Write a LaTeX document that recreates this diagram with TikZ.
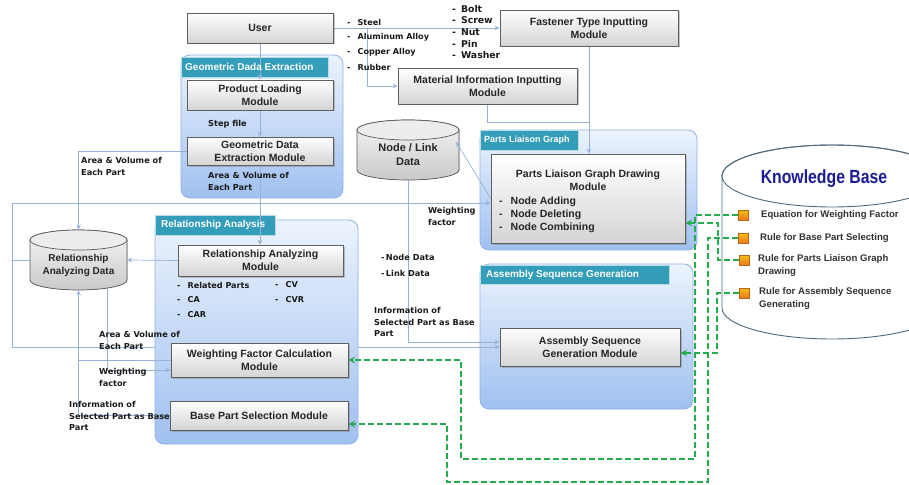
\documentclass[tikz,border=0pt]{standalone}
\usepackage{fontspec}
\setmainfont{Liberation Sans}
\newfontfamily\dvs{DejaVu Sans}
\usetikzlibrary{arrows.meta,shadows,calc}
\definecolor{grpTop}{RGB}{236,243,253}
\definecolor{grpBot}{RGB}{160,192,240}
\definecolor{grpLine}{RGB}{145,178,228}
\definecolor{tabFill}{RGB}{52,158,186}
\definecolor{modBot}{RGB}{212,212,212}
\definecolor{modLine}{RGB}{95,95,95}
\definecolor{connCol}{RGB}{150,178,214}
\definecolor{kbGreen}{RGB}{38,172,78}
\definecolor{kbLine}{RGB}{75,105,125}
\definecolor{kbTitle}{RGB}{28,28,150}
\definecolor{kbOrange}{RGB}{238,140,35}
\definecolor{cylLine}{RGB}{90,90,90}
\pgfdeclarelayer{grp}
\pgfdeclarelayer{conn}
\pgfsetlayers{grp,conn,main}
\begin{document}
\begin{tikzpicture}[x=1pt,y=-1pt,
  module/.style={draw=modLine, line width=0.6pt, top color=white, bottom color=modBot,
    inner sep=0pt, drop shadow={shadow xshift=1.5pt, shadow yshift=-1.5pt, opacity=0.45}},
  modtxt/.style={inner sep=0pt, align=center, font=\fontsize{10.5}{13}\selectfont\bfseries, text=black!85},
  group/.style={draw=grpLine, line width=0.8pt, rounded corners=9pt, top color=grpTop, bottom color=grpBot, inner sep=0pt},
  tabbox/.style={fill=tabFill, draw=white!65!tabFill, line width=0.8pt, inner sep=0pt},
  tabtxt/.style={inner sep=0pt, text=white, font=\fontsize{10}{12}\selectfont\bfseries},
  conn/.style={draw=connCol, line width=0.7pt},
  arr/.style={conn, -{Stealth[length=5pt,width=4.5pt]}},
  lbl/.style={inner sep=0pt, align=left, text=black!90, font=\dvs\fontsize{8.2}{12}\selectfont\bfseries},
  lst/.style={inner sep=0pt, align=left, text=black!90, font=\dvs\fontsize{8.1}{10}\selectfont\bfseries},
  fst/.style={inner sep=0pt, align=left, text=black!90, font=\dvs\fontsize{9.3}{11}\selectfont\bfseries},
  cyltxt/.style={inner sep=0pt, align=center, text=black!85, font=\fontsize{10}{13}\selectfont\bfseries},
  kbtxt/.style={inner sep=0pt, align=left, text=black!80, font=\fontsize{9.6}{12.5}\selectfont\bfseries},
  kbsq/.style={draw=kbOrange!75!black, line width=0.4pt, top color=kbOrange!55!yellow, bottom color=kbOrange!85!red, minimum size=10pt, inner sep=0pt},
  kbdash/.style={draw=kbGreen, line width=1.6pt, dash pattern=on 5.5pt off 3.5pt},
  kbarr/.style={kbdash, -{Stealth[length=7pt,width=7pt,inset=2.5pt]}},
  cylbody/.style={draw=cylLine, line width=0.7pt, top color=gray!8, bottom color=gray!42},
  cylend/.style={draw=cylLine, line width=0.7pt, fill=gray!14}
]
\useasboundingbox (0,0) rectangle (909,484);
\clip (0,0) rectangle (909,484);

% ---------- groups, tabs, cylinders (bottom layer)
\begin{pgfonlayer}{grp}
\node[group, minimum width=162pt, minimum height=143pt] (gde) at (262,126.5) {};
\node[group, minimum width=217pt, minimum height=120pt] (plg) at (588.5,190) {};
\node[group, minimum width=213pt, minimum height=145pt] (asg) at (586.5,336.5) {};
\node[group, minimum width=203pt, minimum height=224pt] (ra) at (256.5,332) {};
\node[tabbox, minimum width=147pt, minimum height=20pt] (gdetab) at (254.5,67) {};
\node[tabbox, minimum width=98pt, minimum height=20pt] (plgtab) at (529,140) {};
\node[tabbox, minimum width=189pt, minimum height=19pt] (asgtab) at (574.5,274.5) {};
\node[tabbox, minimum width=120pt, minimum height=20pt] (ratab) at (215,225) {};
% Relationship Analyzing Data cylinder
\filldraw[cylbody] (30,240) -- (30,280) arc[start angle=180,end angle=360,x radius=48.5pt,y radius=10pt] -- (127,240) arc[start angle=0,end angle=180,x radius=48.5pt,y radius=10pt] -- cycle;
\filldraw[cylend] (78.5,240) ellipse[x radius=48.5pt,y radius=10pt];
% Node / Link Data cylinder
\filldraw[cylbody] (357,130) -- (357,170) arc[start angle=180,end angle=360,x radius=51pt,y radius=10pt] -- (459,130) arc[start angle=0,end angle=180,x radius=51pt,y radius=10pt] -- cycle;
\filldraw[cylend] (408,130) ellipse[x radius=51pt,y radius=10pt];
% Knowledge Base cylinder
\filldraw[draw=kbLine, line width=0.9pt, fill=white] (722,176) -- (722,308) arc[start angle=180,end angle=360,x radius=110pt,y radius=31pt] -- (942,176) arc[start angle=0,end angle=180,x radius=110pt,y radius=31pt] -- cycle;
\draw[draw=kbLine, line width=0.9pt] (832,176) ellipse[x radius=110pt,y radius=31pt];
\end{pgfonlayer}

% invisible nodes covering the cylinders
\node[inner sep=0pt, minimum width=97pt, minimum height=60pt] (rad) at (78.5,260) {};
\node[inner sep=0pt, minimum width=102pt, minimum height=60pt] (nld) at (408,150) {};
\node[inner sep=0pt, minimum width=220pt, minimum height=194pt] (kb) at (832,242) {};

% ---------- modules
\node[module, minimum width=146pt, minimum height=30pt] (user) at (260,28) {};
\node[module, minimum width=146pt, minimum height=30pt] (plm) at (260,95) {};
\node[module, minimum width=146pt, minimum height=28pt] (gdem) at (260,151) {};
\node[module, minimum width=178pt, minimum height=36pt] (fast) at (589,28) {};
\node[module, minimum width=179pt, minimum height=36pt] (mat) at (487.5,86) {};
\node[module, minimum width=194pt, minimum height=89pt] (plgdm) at (588,198.5) {};
\node[module, minimum width=180pt, minimum height=38pt] (asgm) at (590,347) {};
\node[module, minimum width=165pt, minimum height=31pt] (ram) at (260.5,260.5) {};
\node[module, minimum width=177pt, minimum height=34pt] (wfcm) at (259.5,360) {};
\node[module, minimum width=178pt, minimum height=29pt] (bpsm) at (259,415.5) {};

\node[modtxt] (usert) at (user) {User};
\node[modtxt] (plmt) at (plm) {Product Loading\\Module};
\node[modtxt] (gdemt) at (gdem) {Geometric Data\\Extraction Module};
\node[modtxt] (fastt) at (fast) {Fastener Type Inputting\\Module};
\node[modtxt] (matt) at (mat) {Material Information Inputting\\Module};
\node[modtxt] (plgdmt) at (588,180) {Parts Liaison Graph Drawing\\Module};
\node[modtxt, anchor=west, align=left] (plgdml) at (499,214.5) {-\hspace{8pt}Node Adding\\-\hspace{8pt}Node Deleting\\-\hspace{8pt}Node Combining};
\node[modtxt] (asgmt) at (asgm) {Assembly Sequence\\Generation Module};
\node[modtxt] (ramt) at (ram) {Relationship Analyzing\\Module};
\node[modtxt] (wfcmt) at (wfcm) {Weighting Factor Calculation\\Module};
\node[modtxt] (bpsmt) at (bpsm) {Base Part Selection Module};

% tab texts
\node[tabtxt, anchor=west] (gdetabt) at (185,67) {Geometric Dada Extraction};
\node[tabtxt, anchor=west, font=\fontsize{9}{11}\selectfont\bfseries] (plgtabt) at (484,140) {Parts Liaison Graph};
\node[tabtxt, anchor=west] (asgtabt) at (486,274.5) {Assembly Sequence Generation};
\node[tabtxt, anchor=west] (ratabt) at (161,225) {Relationship Analysis};

% cylinder texts
\node[cyltxt] (radt) at (78.5,265.5) {Relationship\\Analyzing Data};
\node[cyltxt, font=\fontsize{11}{14.5}\selectfont\bfseries] (nldt) at (408,154.5) {Node / Link\\Data};

% ---------- light connectors
\coordinate (brM) at (367,28);
\coordinate (jM) at (589,122);
\coordinate (lpA) at (12,203);
\coordinate (lpB) at (12,260);
\coordinate (lpC) at (12,347);
\coordinate (radB) at (107,288);
\begin{pgfonlayer}{conn}
\draw[arr] (user.south) -- (plm.north);
\draw[arr] (plm.south) -- (gdem.north);
\draw[arr] (gdem.south) -- (gdem.south |- ram.north);
\draw[arr] (gdem.west) -| (rad.north);
\draw[arr] (user.east) -- (fast.west);
\draw[arr] (brM) |- (mat.west);
\draw[arr] (fast.south) -- (fast.south |- plgdm.north);
\draw[conn] (mat.south) |- (jM);
\draw[arr] (plgdm.west) -- ($(nld.east)+(-3,-8)$);
\draw[arr] (lpA) -- (lpA -| plgdm.west);
\draw[conn] (rad.west) -- (lpB);
\draw[conn] (lpA) -- (lpC);
\draw[conn] (lpC) -- (lpC -| ra.west);
\draw[arr] (lpC -| ra.east) -- (lpC -| asgm.west);
\draw[arr] (ram.west) -- (rad.east);
\draw[arr] (nld.south) |- ($(asgm.west)+(0,-5)$);
\draw[arr] (bpsm.west) -| (rad.south);
\draw[conn] (rad.south |- wfcm.west) -- (wfcm.west);
\draw[arr] (radB) |- ($(wfcm.west)+(0,10)$);
\end{pgfonlayer}

% ---------- knowledge base contents
\node[inner sep=0pt, text=kbTitle, font=\fontsize{17}{20}\selectfont\bfseries] (kbt) at (824,179) {\scalebox{0.93}[1.12]{Knowledge Base}};
\node[kbsq] (kbq1) at (743,215) {};
\node[kbsq] (kbq2) at (743,238) {};
\node[kbsq] (kbq3) at (744,260) {};
\node[kbsq] (kbq4) at (744,293) {};
\node[kbtxt, anchor=west] (kb1) at (761,215) {Equation for Weighting Factor};
\node[kbtxt, anchor=west] (kb2) at (760,238) {Rule for Base Part Selecting};
\node[kbtxt, anchor=north west] (kb3) at (758,254.5) {Rule for Parts Liaison Graph\\Drawing};
\node[kbtxt, anchor=north west] (kb4) at (759,287.5) {Rule for Assembly Sequence\\Generating};

% ---------- knowledge base dashed links
\begin{pgfonlayer}{conn}
\draw[kbarr] (kbq1.west) -- (695,215) -- (695,459) -- (461,459) -- (461,360) -- (wfcm.east);
\draw[kbarr] (kbq2.west) -- (708,238) -- (708,482) -- (447,482) -- (447,424) -- ($(bpsm.east)+(0,8.5)$);
\draw[kbarr] (kbq3.west) -- (718,260) -- (718,223) -- ($(plgdm.east)+(0,24.5)$);
\draw[kbarr] (kbq4.west) -- (717,293) -- (717,353) -- ($(asgm.east)+(0,6)$);
\end{pgfonlayer}

% ---------- lists
\node[lst, anchor=west] (m1) at (347,22) {-\hspace{7pt}Steel};
\node[lst, anchor=west] (m2) at (347,37) {-\hspace{7pt}Aluminum Alloy};
\node[lst, anchor=west] (m3) at (347,52) {-\hspace{7pt}Copper Alloy};
\node[lst, anchor=west] (m4) at (347,67) {-\hspace{7pt}Rubber};
\node[fst, anchor=west] (f1) at (452,9) {-\hspace{5pt}Bolt};
\node[fst, anchor=west] (f2) at (452,20.5) {-\hspace{5pt}Screw};
\node[fst, anchor=west] (f3) at (452,32) {-\hspace{5pt}Nut};
\node[fst, anchor=west] (f4) at (452,43.5) {-\hspace{5pt}Pin};
\node[fst, anchor=west] (f5) at (452,55) {-\hspace{5pt}Washer};
\node[lst, anchor=west] (r1) at (177,285) {-\hspace{7pt}Related Parts};
\node[lst, anchor=west] (r2) at (177,300) {-\hspace{7pt}CA};
\node[lst, anchor=west] (r3) at (177,315) {-\hspace{7pt}CAR};
\node[lst, anchor=west] (r4) at (275,285) {-\hspace{7pt}CV};
\node[lst, anchor=west] (r5) at (275,300) {-\hspace{7pt}CVR};
\node[lbl, anchor=west] (nd) at (381,257) {-\,Node Data};
\node[lbl, anchor=west] (ld) at (381,273) {-\,Link Data};

% ---------- labels
\node[lbl, anchor=west] (stepf) at (208,124) {Step file};
\node[lbl, anchor=north west] (av1) at (208,172.5) {Area \& Volume of\\Each Part};
\node[lbl, anchor=north west] (av2) at (81,157.5) {Area \& Volume of\\Each Part};
\node[lbl, anchor=north west] (av3) at (99,331.5) {Area \& Volume of\\Each Part};
\node[lbl, anchor=north west] (wf1) at (99,368) {Weighting\\factor};
\node[lbl, anchor=north west, font=\dvs\fontsize{8.2}{11.5}\selectfont\bfseries] (inf1) at (69,401.5) {Information of\\Selected Part as Base\\Part};
\node[lbl, anchor=north west] (wf2) at (428,207) {Weighting\\factor};
\node[lbl, anchor=north west, font=\dvs\fontsize{8.2}{11.5}\selectfont\bfseries] (inf2) at (374,307.5) {Information of\\Selected Part as Base\\Part};
\end{tikzpicture}
\end{document}
